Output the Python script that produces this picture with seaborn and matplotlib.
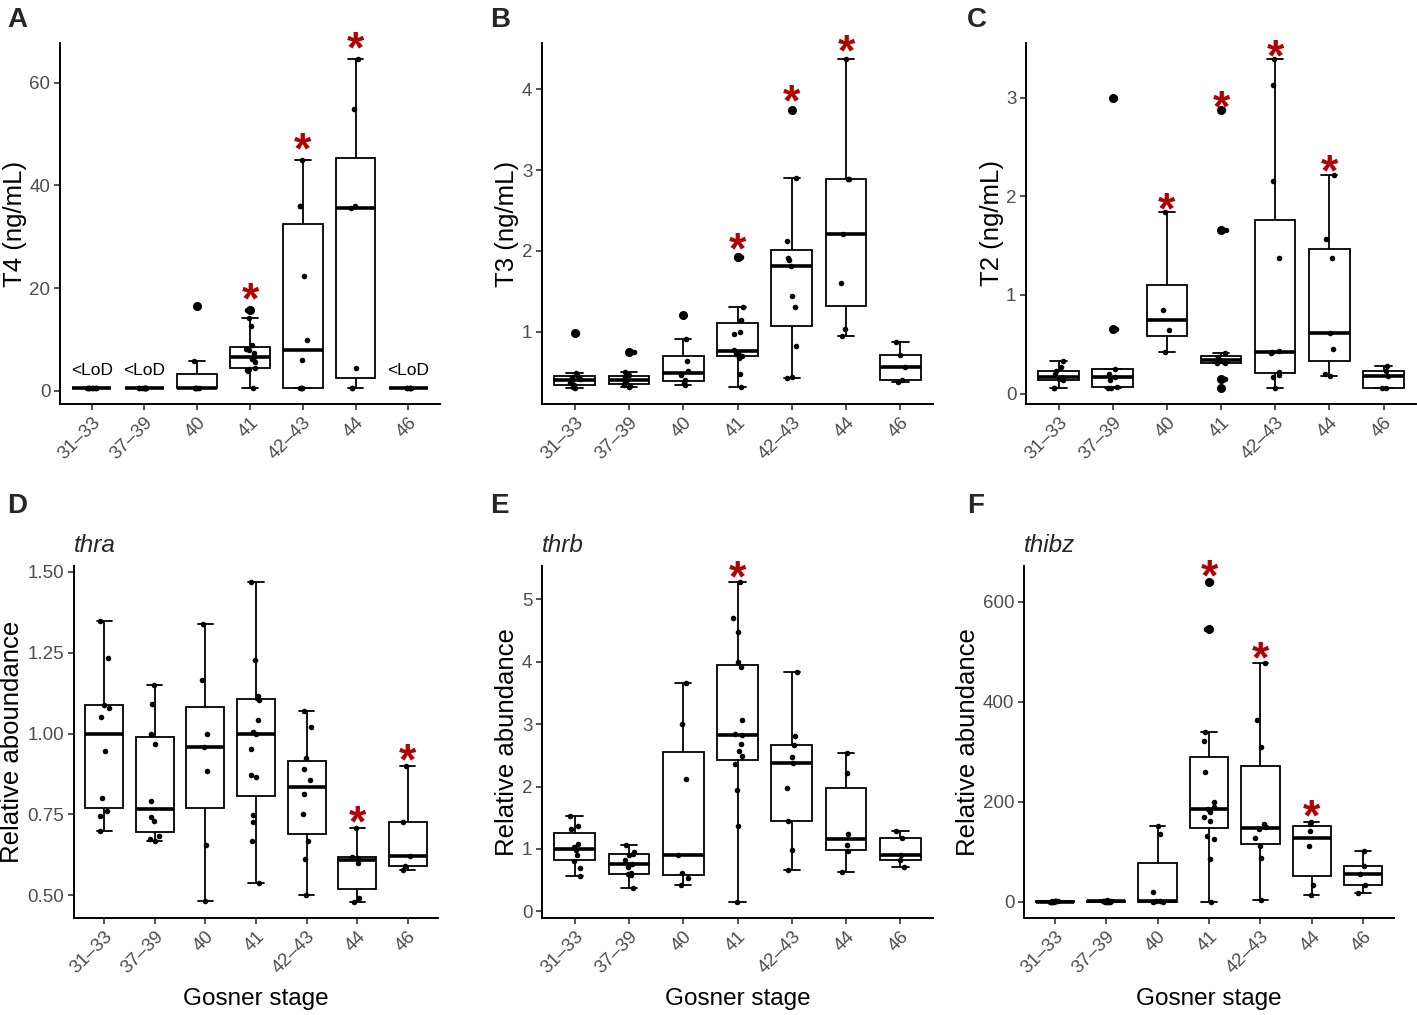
import numpy as np
import pandas as pd
import matplotlib.pyplot as plt
import seaborn as sns

sns.set_theme(style="ticks")
plt.rcParams['font.family'] = ['Liberation Sans', 'DejaVu Sans']
np.random.seed(3)

stages = ["31–33", "37–39", "40", "41", "42–43", "44", "46"]

# values, one list per Gosner stage
t4_vals = [
    [0.65, 0.65, 0.65, 0.65, 0.65, 0.65, 0.65, 0.65, 0.65],
    [0.65, 0.65, 0.65, 0.65, 0.65, 0.65, 0.65, 0.65, 0.65],
    [0.65, 0.65, 0.65, 0.65, 0.65, 5.8, 16.5],
    [0.65, 3.8, 4.0, 4.3, 4.5, 5.6, 6.2, 6.6, 7.4, 7.9, 8.2, 9.0, 12.6, 14.2, 15.7],
    [0.65, 0.65, 0.65, 0.65, 6.0, 10.0, 22.3, 35.9, 35.9, 44.9],
    [0.65, 0.65, 4.4, 35.6, 35.9, 54.8, 64.5],
    [0.65, 0.65, 0.65, 0.65, 0.65, 0.65],
]
t3_vals = [
    [0.31, 0.32, 0.34, 0.37, 0.40, 0.42, 0.44, 0.46, 0.49, 0.99],
    [0.32, 0.33, 0.34, 0.36, 0.38, 0.40, 0.42, 0.44, 0.46, 0.50, 0.75],
    [0.34, 0.37, 0.40, 0.47, 0.51, 0.64, 0.905, 1.21],
    [0.32, 0.48, 0.67, 0.70, 0.71, 0.73, 0.75, 0.77, 0.97, 1.0, 1.15, 1.31, 1.92, 1.92],
    [0.43, 0.44, 0.83, 1.31, 1.44, 1.81, 1.89, 1.91, 2.12, 2.90, 3.75],
    [0.95, 1.04, 1.60, 2.21, 2.89, 2.89, 4.37],
    [0.38, 0.41, 0.56, 0.71, 0.877],
]
t2_vals = [
    [0.06, 0.06, 0.14, 0.15, 0.17, 0.20, 0.23, 0.27, 0.33],
    [0.06, 0.06, 0.07, 0.14, 0.17, 0.20, 0.25, 0.657, 3.0],
    [0.42, 0.64, 0.85, 1.837],
    [0.06, 0.15, 0.31, 0.31, 0.32, 0.33, 0.34, 0.36, 0.37, 0.41, 1.66, 2.87],
    [0.06, 0.17, 0.19, 0.22, 0.41, 0.42, 0.43, 1.37, 2.15, 3.13, 3.387],
    [0.175, 0.20, 0.45, 0.61, 1.37, 1.57, 2.22],
    [0.06, 0.06, 0.18, 0.23, 0.28],
]
thra_vals = [
    [0.70, 0.745, 0.76, 0.80, 0.947, 1.05, 1.08, 1.09, 1.233, 1.349],
    [0.669, 0.675, 0.684, 0.73, 0.743, 0.792, 0.969, 0.998, 1.092, 1.149],
    [0.482, 0.656, 0.885, 0.96, 0.998, 1.166, 1.339],
    [0.538, 0.669, 0.728, 0.748, 0.865, 0.872, 0.951, 1.0, 1.005, 1.043, 1.105, 1.11, 1.115, 1.228, 1.469],
    [0.50, 0.613, 0.669, 0.75, 0.812, 0.855, 0.891, 0.923, 1.021, 1.07],
    [0.479, 0.492, 0.60, 0.615, 0.618, 0.709],
    [0.577, 0.591, 0.62, 0.728, 0.90],
]
thrb_vals = [
    [0.568, 0.70, 0.80, 0.90, 0.98, 1.03, 1.072, 1.32, 1.364, 1.523],
    [0.372, 0.58, 0.60, 0.61, 0.711, 0.764, 0.817, 0.90, 0.925, 0.95, 1.062],
    [0.419, 0.54, 0.61, 0.91, 2.12, 3.0, 3.662],
    [0.15, 1.364, 1.948, 2.362, 2.49, 2.569, 2.675, 2.83, 2.84, 3.073, 3.92, 3.99, 4.48, 4.708, 5.28],
    [0.658, 0.982, 1.454, 1.975, 2.383, 2.468, 2.665, 2.813, 3.832],
    [0.637, 0.966, 1.062, 1.247, 2.213, 2.542],
    [0.711, 0.823, 0.902, 1.168, 1.295],
]
thibz_vals = [
    [0.3, 0.5, 0.6, 0.8, 0.9, 1.0, 1.2, 1.5, 1.8, 2.5],
    [0.2, 0.4, 0.5, 0.7, 0.9, 1.1, 1.4, 1.8, 2.2, 3.0],
    [0.3, 0.5, 1.0, 1.5, 19.2, 136, 152],
    [0, 86, 126, 132.6, 162.4, 169, 180, 185, 189, 199, 258.6, 321.6, 339.5, 545, 639],
    [3.3, 88.8, 112.7, 128.6, 146.5, 150, 155, 309.6, 362.7, 476.7],
    [14.6, 33, 112, 141.9, 155, 160.4],
    [17.9, 34.5, 55.7, 72.3, 102],
]

t4_ticks = [0, 20, 40, 60]
t3_ticks = [1, 2, 3, 4]
t2_ticks = [0, 1, 2, 3]
thra_ticks = [0.50, 0.75, 1.00, 1.25, 1.50]
thrb_ticks = [0, 1, 2, 3, 4, 5]
thibz_ticks = [0, 200, 400, 600]

# stages flagged as significant (index into stages)
t4_sig = [3, 4, 5]
t3_sig = [3, 4, 5]
t2_sig = [2, 3, 4, 5]
thra_sig = [5, 6]
thrb_sig = [3]
thibz_sig = [3, 4, 5]
t4_lod = [0, 1, 6]

W, H = 1417, 1015
RED = "#B00000"
GREY = "#4D4D4D"

panels = [
    # letter, values, ticks, fmt, ylabel, title, sig, star pad px, axes box px, ylabel centre px
    ("A", t4_vals, t4_ticks, "{:.0f}", "T4 (ng/mL)", None, t4_sig, 23, (60, 43, 440, 404), 13),
    ("B", t3_vals, t3_ticks, "{:.0f}", "T3 (ng/mL)", None, t3_sig, 20, (542, 43, 933, 404), 505),
    ("C", t2_vals, t2_ticks, "{:.0f}", "T2 (ng/mL)", None, t2_sig, 15, (1026, 43, 1416, 404), 990),
    ("D", thra_vals, thra_ticks, "{:.2f}", "Relative aboundance", "thra", thra_sig, 17, (74, 566, 438, 918), 10),
    ("E", thrb_vals, thrb_ticks, "{:.0f}", "Relative abundance", "thrb", thrb_sig, 16, (542, 566, 933, 918), 505),
    ("F", thibz_vals, thibz_ticks, "{:.0f}", "Relative abundance", "thibz", thibz_sig, 17, (1024, 566, 1394, 918), 966),
]

fig = plt.figure(figsize=(W / 100, H / 100), dpi=100)

for letter, vals, ticks, fmt, ylab, title, sig, pad, box, ylab_c in panels:
    left, top, right, bottom = box
    ax = fig.add_axes([left / W, 1 - bottom / H, (right - left) / W, (bottom - top) / H])

    df = pd.DataFrame({
        "stage": [s for s, v in zip(stages, vals) for _ in v],
        "value": [x for v in vals for x in v],
    })

    sns.boxplot(data=df, x="stage", y="value", order=stages, ax=ax,
                color="white", linecolor="black", linewidth=1.3, width=0.75,
                capwidths=0.3, fliersize=5.5,
                medianprops=dict(linewidth=2.6),
                flierprops=dict(marker="o", markerfacecolor="black", markeredgecolor="black"))
    sns.stripplot(data=df, x="stage", y="value", order=stages, ax=ax,
                  color="black", size=4, jitter=0.1, linewidth=0)

    lo, hi = df["value"].min(), df["value"].max()
    rng = hi - lo
    ax.set_ylim(lo - 0.05 * rng, hi + 0.05 * rng)
    ax.set_xlim(-0.6, 6.6)

    ax.set_yticks(ticks)
    ax.set_yticklabels([fmt.format(t) for t in ticks])
    ax.set_xticks(range(len(stages)))
    ax.set_xticklabels(stages, rotation=45, ha="right", rotation_mode="anchor")
    ax.tick_params(length=4, width=1.2, color="#333333", labelsize=13.5, labelcolor=GREY, pad=3)
    sns.despine(ax=ax)
    for sp in ("left", "bottom"):
        ax.spines[sp].set_linewidth(1.4)
        ax.spines[sp].set_color("black")

    ax.set_ylabel(ylab, fontsize=18.5, color="black")
    ax.yaxis.set_label_coords((ylab_c + 14 - left) / (right - left), 0.5)
    if title is None:
        ax.set_xlabel("")
    else:
        ax.set_xlabel("Gosner stage", fontsize=17.5, color="black")
        ax.xaxis.set_label_coords(0.5, (bottom - 988) / (bottom - top))
        ax.set_title(title, loc="left", fontstyle="italic", fontsize=17.5, pad=10)

    fs_star = 32
    for i in sig:
        ax.annotate("*", xy=(i, max(vals[i])), xytext=(0, pad * 0.72 - 0.58 * fs_star),
                    textcoords="offset points", ha="center", va="baseline",
                    color=RED, fontsize=fs_star, fontweight="bold", annotation_clip=False)
    if letter == "A":
        for i in t4_lod:
            ax.annotate("<LoD", xy=(i, max(vals[i])), xytext=(0, 12.5),
                        textcoords="offset points", ha="center", va="center",
                        fontsize=12.5, color="black")

    lx = 7 if letter in "AD" else (490 if letter in "BE" else 967)
    ly = 27 if letter in "ABC" else 513
    fig.text(lx / W, 1 - ly / H, letter, fontsize=20, fontweight="bold", va="baseline", ha="left")

fig.savefig("out.png", dpi=100)
